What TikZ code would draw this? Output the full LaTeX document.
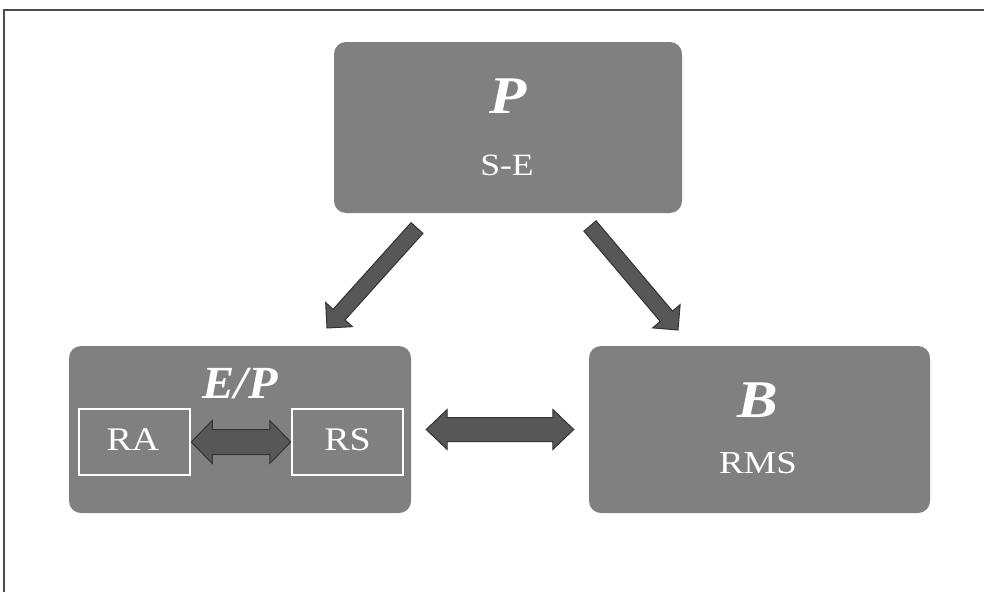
\documentclass[tikz,border=0pt]{standalone}
\usepackage{fontspec}
\setmainfont{Liberation Serif}
\usetikzlibrary{calc}
\definecolor{boxgray}{HTML}{808080}
\definecolor{arrowfill}{HTML}{575757}
\definecolor{arrowline}{HTML}{333333}
\newcommand{\widetxt}[1]{\scalebox{1.15}[1]{#1}}
\tikzset{
  bigbox/.style={rectangle, rounded corners=12pt, fill=boxgray, draw=none, inner sep=0pt},
  subbox/.style={rectangle, draw=white, line width=2.5pt, fill=boxgray, inner sep=0pt, minimum width=111pt, minimum height=66pt},
  lbl/.style={text=white, inner sep=0pt, anchor=base},
  fatarrowstyle/.style={fill=arrowfill, draw=arrowline, line width=1pt, line join=miter},
  framestyle/.style={draw=black!70, line width=1.2pt}
}
% single fat arrow: from, to, body half width, head half width, head length
\newcommand{\fatarrow}[5]{%
  \coordinate (fahb) at ($(#2)!#5!(#1)$);
  \filldraw[fatarrowstyle] ($(#1)!#3!90:(#2)$) -- ($(fahb)!#3!-90:(#1)$) -- ($(fahb)!#4!-90:(#1)$) -- (#2)
    -- ($(fahb)!#4!90:(#1)$) -- ($(fahb)!#3!90:(#1)$) -- ($(#1)!#3!-90:(#2)$) -- cycle;}
% double fat arrow
\newcommand{\fatdarrow}[5]{%
  \coordinate (faha) at ($(#1)!#5!(#2)$);
  \coordinate (fahb) at ($(#2)!#5!(#1)$);
  \filldraw[fatarrowstyle] (#1) -- ($(faha)!#4!90:(#2)$) -- ($(faha)!#3!90:(#2)$) -- ($(fahb)!#3!-90:(#1)$)
    -- ($(fahb)!#4!-90:(#1)$) -- (#2) -- ($(fahb)!#4!90:(#1)$) -- ($(fahb)!#3!90:(#1)$)
    -- ($(faha)!#3!-90:(#2)$) -- ($(faha)!#4!-90:(#2)$) -- cycle;}
\begin{document}
\begin{tikzpicture}[x=1pt,y=-1pt]
\useasboundingbox (0,0) rectangle (984,592);
\fill[white] (0,0) rectangle (984,592);
\draw[framestyle] (4,592) -- (4,10) -- (984,10);

% boxes
\node[bigbox, minimum width=348pt, minimum height=171pt] (P) at (508,127.5) {};
\node[bigbox, minimum width=342pt, minimum height=167pt] (EP) at (240,429.5) {};
\node[bigbox, minimum width=341pt, minimum height=167pt] (B) at (759.5,429.5) {};
\node[subbox] (RA) at (134.5,442) {};
\node[subbox] (RS) at (347.5,442) {};

% texts
\node[lbl, font=\fontsize{53}{60}\selectfont\bfseries\itshape] (tP) at (508,113) {\widetxt{P}};
\node[lbl, font=\fontsize{31}{38}\selectfont] (tSE) at (507,175) {\widetxt{S-E}};
\node[lbl, font=\fontsize{46}{54}\selectfont\bfseries\itshape] (tEP) at (240,398) {\scalebox{1.05}[1]{E/P}};
\node[lbl, font=\fontsize{53}{60}\selectfont\bfseries\itshape] (tB) at (758,417) {\widetxt{B}};
\node[lbl, font=\fontsize{32}{40}\selectfont] (tRMS) at (758,473) {\widetxt{RMS}};
\node[lbl, font=\fontsize{33}{40}\selectfont] (tRA) at (133,450) {\widetxt{RA}};
\node[lbl, font=\fontsize{33}{40}\selectfont] (tRS) at (347.5,450) {\widetxt{RS}};

% connector end points
\coordinate (l1) at (417,228);
\coordinate (l2) at (327,328);
\coordinate (r1) at (590,226);
\coordinate (r2) at (678,330);
\coordinate (h1) at ($(EP.east)+(15pt,0)$);
\coordinate (h2) at ($(B.west)+(-15pt,0)$);

\fatarrow{l1}{l2}{8pt}{18pt}{18pt}
\fatarrow{r1}{r2}{8pt}{18pt}{18pt}
\fatdarrow{h1}{h2}{12pt}{20pt}{21pt}
\fatdarrow{RA.east}{RS.west}{12.5pt}{21.5pt}{21pt}
\end{tikzpicture}
\end{document}
